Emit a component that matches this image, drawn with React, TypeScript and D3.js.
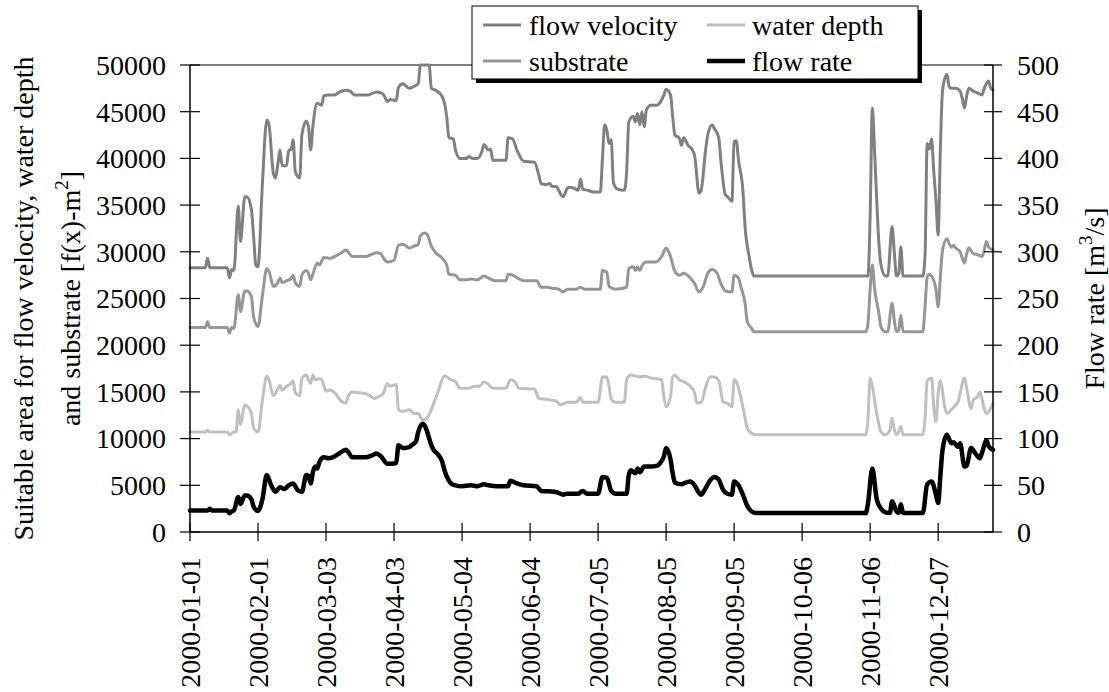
import React from "react";
import * as d3 from "d3";

const tickLabels = [
  "2000-01-01", "2000-02-01", "2000-03-03", "2000-04-03", "2000-05-04", "2000-06-04",
  "2000-07-05", "2000-08-05", "2000-09-05", "2000-10-06", "2000-11-06", "2000-12-07",
];
const leftTicks = [0, 5000, 10000, 15000, 20000, 25000, 30000, 35000, 40000, 45000, 50000];
const rightTicks = [0, 50, 100, 150, 200, 250, 300, 350, 400, 450, 500];

// [day of year (0 = 2000-01-01), value]
const flowVelocity: [number, number][] = [
  [0, 28300], [7, 28300], [8, 29300], [9, 28300], [17, 28300], [18, 27200], [19, 28100], [20, 28000],
  [22, 34900], [23, 31100], [25, 35900], [26, 35900], [28, 34500], [29, 31600], [30, 28600], [31, 28400],
  [33, 37300], [35, 44100], [36, 43600], [38, 38400], [39, 37900], [40, 39300], [41, 40900], [42, 39200],
  [44, 39200], [45, 40900], [46, 40900], [47, 42000], [48, 38600], [50, 37900], [51, 42500], [53, 44000],
  [54, 43400], [55, 40900], [56, 43400], [58, 45900], [59, 45800], [60, 45700], [61, 46700], [63, 46800],
  [66, 46800], [68, 47100], [71, 47300], [73, 47200], [75, 46800], [81, 46800], [85, 47100], [88, 46900],
  [90, 46100], [91, 46300], [94, 46200], [95, 47600], [97, 48000], [100, 47500], [102, 47700], [104, 48000],
  [105, 50000], [109, 50000], [110, 47500], [112, 47300], [115, 46600], [116, 45900], [117, 44500], [118, 42200],
  [120, 42100], [121, 40900], [123, 40000], [126, 40000], [127, 40200], [129, 40000], [131, 40000], [133, 40700],
  [134, 41500], [136, 40900], [137, 41000], [138, 39800], [144, 39800], [145, 42200], [147, 42100], [149, 40900],
  [150, 40400], [152, 39700], [157, 39600], [159, 38200], [160, 37300], [162, 37200], [164, 37300], [165, 37000],
  [167, 37000], [168, 36600], [170, 35900], [172, 36800], [173, 36900], [175, 36800], [177, 36600], [178, 37800],
  [179, 36700], [181, 36600], [184, 36400], [187, 36400], [188, 40000], [189, 43600], [190, 43000], [191, 41600],
  [192, 42000], [193, 37400], [195, 36700], [198, 36600], [199, 38500], [200, 43900], [202, 44500], [203, 43900],
  [204, 44800], [205, 43600], [206, 45000], [207, 43400], [208, 45200], [210, 45700], [213, 45700], [214, 45900],
  [216, 46800], [217, 47400], [219, 46800], [220, 44500], [221, 42500], [223, 42200], [224, 41400], [225, 42200],
  [227, 41400], [229, 40900], [230, 40300], [232, 36300], [233, 36600], [235, 40900], [236, 42500], [238, 43600],
  [239, 43200], [241, 42200], [242, 39700], [244, 36100], [245, 35900], [247, 35400], [248, 41800], [249, 41900],
  [250, 39800], [252, 36600], [253, 32700], [255, 29300], [256, 28050], [257, 27400], [309, 27400], [310, 33800],
  [311, 45400], [312, 40900], [314, 30900], [315, 28500], [317, 27400], [318, 27400], [320, 32700], [321, 30000],
  [322, 27400], [323, 27600], [324, 30550], [325, 27400], [334, 27400], [335, 29500], [336, 41600], [337, 41000],
  [338, 42100], [339, 38600], [340, 35500], [341, 31800], [342, 40900], [343, 47300], [345, 49000], [346, 47700],
  [347, 47500], [349, 47500], [351, 47200], [352, 46400], [353, 45400], [354, 46700], [355, 47500], [357, 47200],
  [359, 47000], [361, 46800], [362, 47500], [364, 48300], [365, 47500], [366, 47300],
];

const substrate: [number, number][] = [
  [0, 21900], [7, 21900], [8, 22500], [9, 21900], [17, 21900], [18, 21300], [19, 21900], [20, 21800],
  [22, 25400], [23, 23600], [25, 25800], [26, 25800], [28, 25200], [29, 23000], [31, 22000], [33, 25300],
  [35, 28200], [36, 27900], [38, 26300], [40, 26700], [41, 27200], [42, 26700], [44, 26900], [46, 27100],
  [47, 27500], [48, 26700], [50, 26300], [51, 27500], [53, 28000], [54, 27700], [55, 27000], [56, 27600],
  [58, 28800], [59, 28600], [61, 29400], [64, 29300], [66, 29500], [69, 29900], [71, 30200], [72, 30000],
  [74, 29500], [80, 29500], [85, 29900], [87, 29800], [88, 29400], [90, 28900], [93, 29100], [95, 30700],
  [97, 30800], [100, 30400], [102, 30600], [104, 30800], [105, 31700], [107, 32000], [108, 31900], [110, 30600],
  [112, 29900], [115, 29300], [117, 28600], [118, 27600], [121, 27500], [123, 27000], [126, 27000], [128, 27100],
  [131, 27000], [134, 27400], [136, 27200], [139, 26900], [144, 26900], [145, 27600], [147, 27500], [150, 27100],
  [152, 26900], [158, 26900], [160, 26200], [163, 26200], [165, 26100], [168, 26000], [170, 25700], [172, 26000],
  [176, 26000], [178, 26200], [180, 26000], [187, 26000], [188, 28000], [190, 27800], [191, 26300], [194, 26000],
  [199, 26200], [200, 28200], [202, 28400], [203, 28000], [204, 28400], [205, 28000], [206, 28500], [208, 28900],
  [212, 28900], [215, 29500], [217, 30400], [219, 29500], [221, 27900], [223, 27500], [225, 27700], [228, 27200],
  [230, 26600], [232, 25700], [234, 26300], [236, 27700], [238, 28100], [240, 27800], [242, 26600], [244, 25800],
  [247, 25700], [248, 27500], [250, 27200], [251, 26300], [253, 24500], [254, 22500], [256, 21800], [257, 21450],
  [308, 21450], [309, 22300], [310, 26000], [311, 28600], [312, 26100], [314, 23400], [315, 21900], [317, 21450],
  [318, 21450], [320, 24500], [321, 22700], [322, 21450], [323, 21600], [324, 23200], [325, 21450], [334, 21450],
  [335, 24000], [336, 27300], [337, 27600], [338, 27400], [340, 26000], [341, 24100], [342, 27300], [343, 30200],
  [345, 31400], [346, 30900], [347, 30500], [348, 30700], [349, 30400], [351, 30000], [352, 29300], [353, 28800],
  [354, 29800], [355, 30400], [357, 29800], [359, 29700], [361, 29500], [362, 30200], [363, 31100], [364, 30500],
  [366, 30200],
];

const waterDepth: [number, number][] = [
  [0, 10700], [7, 10700], [8, 10900], [9, 10700], [17, 10700], [18, 10400], [20, 10700], [21, 10700],
  [22, 13100], [23, 11500], [25, 13600], [26, 13500], [28, 12700], [29, 11100], [31, 10700], [33, 14100],
  [35, 16700], [36, 16300], [38, 14600], [40, 15300], [41, 15700], [42, 15200], [44, 15600], [46, 15900],
  [47, 16200], [48, 14900], [50, 14600], [51, 16400], [53, 16800], [54, 16300], [55, 15900], [56, 16800],
  [57, 16300], [59, 16400], [60, 16300], [62, 15100], [64, 15200], [66, 14900], [69, 14000], [71, 13800],
  [72, 14500], [74, 15000], [77, 14900], [80, 14800], [82, 14600], [84, 14300], [86, 14500], [88, 14800],
  [90, 15900], [91, 15600], [94, 15800], [95, 13100], [97, 12900], [100, 13100], [102, 12700], [104, 12700],
  [106, 12000], [108, 12200], [110, 13100], [113, 15000], [116, 16700], [119, 16300], [121, 16100], [123, 15400],
  [127, 15400], [130, 15600], [132, 15600], [134, 16100], [136, 15800], [138, 15400], [144, 15400], [146, 16300],
  [148, 16100], [150, 15400], [157, 15300], [159, 14300], [163, 14200], [165, 14100], [167, 14000], [169, 13600],
  [172, 13900], [176, 13900], [178, 14400], [179, 13900], [186, 13900], [188, 16600], [190, 16600], [191, 15600],
  [192, 14200], [194, 13900], [198, 13900], [199, 16300], [201, 16800], [203, 16700], [205, 16600], [207, 16700],
  [210, 16500], [213, 16400], [215, 16300], [216, 14500], [217, 13400], [219, 14500], [220, 16600], [221, 16800],
  [223, 16300], [225, 16100], [228, 15600], [230, 14900], [231, 13800], [233, 13900], [235, 15500], [237, 16600],
  [239, 16600], [241, 16200], [243, 13900], [245, 13800], [247, 13400], [248, 16300], [249, 16100], [251, 14500],
  [253, 12200], [254, 11100], [256, 10570], [258, 10400], [308, 10400], [309, 12000], [310, 16500], [311, 15600],
  [313, 12700], [315, 10700], [317, 10400], [319, 10900], [320, 12200], [321, 11000], [322, 10400], [323, 10700],
  [324, 11300], [325, 10400], [334, 10400], [335, 12000], [336, 16200], [338, 16500], [339, 13400], [340, 11800],
  [341, 14800], [342, 16200], [344, 13400], [345, 12700], [347, 13100], [349, 13600], [350, 13900], [353, 16500],
  [354, 15400], [356, 13200], [357, 14100], [359, 14500], [360, 15000], [362, 13200], [363, 12700], [366, 13800],
];

// flow rate in m3/s (right axis)
const flowRate: [number, number][] = [
  [0, 23], [8, 23], [9, 25], [10, 23], [17, 23], [18, 20], [19, 22], [20, 23], [22, 37.5], [23, 30],
  [25, 39], [26, 39], [28, 35], [29, 27], [31, 22.5], [33, 35], [35, 61], [37, 50], [39, 43], [41, 48],
  [43, 46], [45, 50], [47, 52], [49, 45], [51, 43], [53, 61], [54, 60], [55, 52], [56, 64], [57, 70],
  [58, 68], [59, 75], [61, 80], [63, 79], [65, 80], [68, 84], [71, 88], [72, 86], [74, 80], [80, 80],
  [83, 82], [85, 84], [87, 81], [90, 73], [92, 73], [94, 74], [95, 93], [97, 90], [98, 90], [100, 91],
  [101, 93], [103, 97], [104, 107], [106, 116], [107, 114], [108, 108], [110, 93], [111, 88], [113, 83],
  [115, 75], [116, 66], [118, 55], [119, 52], [121, 50], [124, 49], [128, 50], [131, 49], [134, 51],
  [136, 50], [140, 49], [145, 49], [146, 55], [149, 52], [152, 50], [158, 49], [160, 44], [166, 43],
  [168, 42], [170, 40], [172, 41], [177, 41], [179, 44], [181, 41], [186, 41], [188, 59], [190, 58],
  [192, 44], [194, 41], [199, 41], [200, 61], [201, 66], [203, 63], [204, 68], [205, 64], [207, 70],
  [210, 70], [213, 71], [214, 73], [216, 81], [217, 90], [219, 78], [220, 63], [221, 53], [224, 51],
  [225, 52], [228, 54], [230, 50], [232, 42], [233, 40], [235, 47], [237, 55], [239, 59], [241, 56],
  [243, 45], [245, 41], [247, 40], [248, 54], [250, 50], [252, 40], [254, 28], [256, 22], [258, 20.3],
  [308, 20.3], [309, 30], [311, 68], [313, 35], [315, 25], [317, 21], [319, 20.3], [320, 33], [322, 22],
  [323, 20.3], [324, 29.6], [325, 20.3], [334, 20.3], [336, 51], [338, 54], [340, 40], [341, 31], [342, 60],
  [343, 88], [345, 104], [347, 95], [348, 96], [350, 91], [351, 95], [353, 70], [354, 71], [356, 90],
  [358, 84], [360, 79], [361, 85], [363, 98], [364, 92], [366, 88],
];

const FONT = '"Liberation Serif", "DejaVu Serif", "Times New Roman", Times, serif';
const FS = 28;

export default function App() {
  const W = 1109, H = 692;
  const x0 = 190, x1 = 993, yTop = 65, yBot = 532;
  const x = d3.scaleLinear().domain([0, 366]).range([x0, x1]);
  const yL = d3.scaleLinear().domain([0, 50000]).range([yBot, yTop]);
  const yR = d3.scaleLinear().domain([0, 500]).range([yBot, yTop]);
  const parse = d3.utcParse("%Y-%m-%d");
  const start = parse(tickLabels[0]) as Date;

  const lineL = d3.line<[number, number]>().x((d) => x(d[0])).y((d) => yL(d[1])).curve(d3.curveMonotoneX);
  const lineR = d3.line<[number, number]>().x((d) => x(d[0])).y((d) => yR(d[1])).curve(d3.curveMonotoneX);

  const series = [
    { name: "flow velocity", color: "#808080", width: 3, path: lineL(flowVelocity) },
    { name: "substrate", color: "#969696", width: 3, path: lineL(substrate) },
    { name: "water depth", color: "#c0c0c0", width: 3, path: lineL(waterDepth) },
    { name: "flow rate", color: "#000000", width: 4.5, path: lineR(flowRate) },
  ];

  const legend = [
    { name: "flow velocity", color: "#808080", width: 3, lx: 483, tx: 529, y: 25 },
    { name: "water depth", color: "#c0c0c0", width: 3, lx: 707, tx: 752, y: 25 },
    { name: "substrate", color: "#969696", width: 3, lx: 483, tx: 529, y: 61 },
    { name: "flow rate", color: "#000000", width: 4.5, lx: 707, tx: 752, y: 61 },
  ];

  const cy = (yTop + yBot) / 2;
  const txt: React.CSSProperties = { fontFamily: FONT, fontSize: FS };

  return (
    <svg width={W} height={H} style={{ position: "absolute", left: 0, top: 0, display: "block", background: "#fff", fontFamily: FONT, fontSize: FS }}>
      <rect x={0} y={0} width={W} height={H} fill="#fff" />
      <line x1={x0} x2={x1} y1={yTop} y2={yTop} stroke="#000" strokeWidth={1.2} />
      {series.map((s) => (
        <path key={s.name} d={s.path || ""} fill="none" stroke={s.color} strokeWidth={s.width}
          strokeLinejoin="round" strokeLinecap="round" />
      ))}
      <line x1={x0} x2={x0} y1={yTop} y2={yBot} stroke="#000" strokeWidth={1.5} />
      <line x1={x1} x2={x1} y1={yTop} y2={yBot} stroke="#000" strokeWidth={1.5} />
      <line x1={x0} x2={x1} y1={yBot} y2={yBot} stroke="#000" strokeWidth={1.5} />
      {leftTicks.map((t) => (
        <g key={"l" + t}>
          <line x1={x0 - 10} x2={x0 + 10} y1={yL(t)} y2={yL(t)} stroke="#000" strokeWidth={1.2} />
          <text style={txt} x={166} y={yL(t)} dy="0.35em" textAnchor="end">{t}</text>
        </g>
      ))}
      {rightTicks.map((t) => (
        <g key={"r" + t}>
          <line x1={x1 - 9} x2={x1 + 9} y1={yR(t)} y2={yR(t)} stroke="#000" strokeWidth={1.2} />
          <text style={txt} x={1017} y={yR(t)} dy="0.35em" textAnchor="start">{t}</text>
        </g>
      ))}
      {tickLabels.map((lab) => {
        const day = d3.utcDay.count(start, parse(lab) as Date);
        const tx = x(day);
        return (
          <g key={lab}>
            <line x1={tx} x2={tx} y1={yBot - 9} y2={yBot + 9} stroke="#000" strokeWidth={1.2} />
            <text style={txt} transform={`translate(${tx},557) rotate(-90)`} dy="0.35em" textAnchor="end">{lab}</text>
          </g>
        );
      })}
      <text style={txt} transform={`translate(33,${cy}) rotate(-90)`} textAnchor="middle">
        Suitable area for flow velocity, water depth
      </text>
      <text style={txt} transform={`translate(80,${cy}) rotate(-90)`} textAnchor="middle">
        and substrate [f(x)-m<tspan dy={-12} fontSize={19}>2</tspan><tspan dy={12}>]</tspan>
      </text>
      <text style={txt} transform={`translate(1104,${cy}) rotate(-90)`} textAnchor="middle">
        Flow rate [m<tspan dy={-12} fontSize={19}>3</tspan><tspan dy={12}>/s]</tspan>
      </text>
      <rect x={476} y={10} width={446} height={73} fill="#000" />
      <rect x={472} y={6} width={446} height={73} fill="#fff" stroke="#000" strokeWidth={1} />
      {legend.map((l) => (
        <g key={l.name}>
          <line x1={l.lx} x2={l.lx + 38} y1={l.y} y2={l.y} stroke={l.color} strokeWidth={l.width} />
          <text style={txt} x={l.tx} y={l.y} dy="0.35em">{l.name}</text>
        </g>
      ))}
    </svg>
  );
}
